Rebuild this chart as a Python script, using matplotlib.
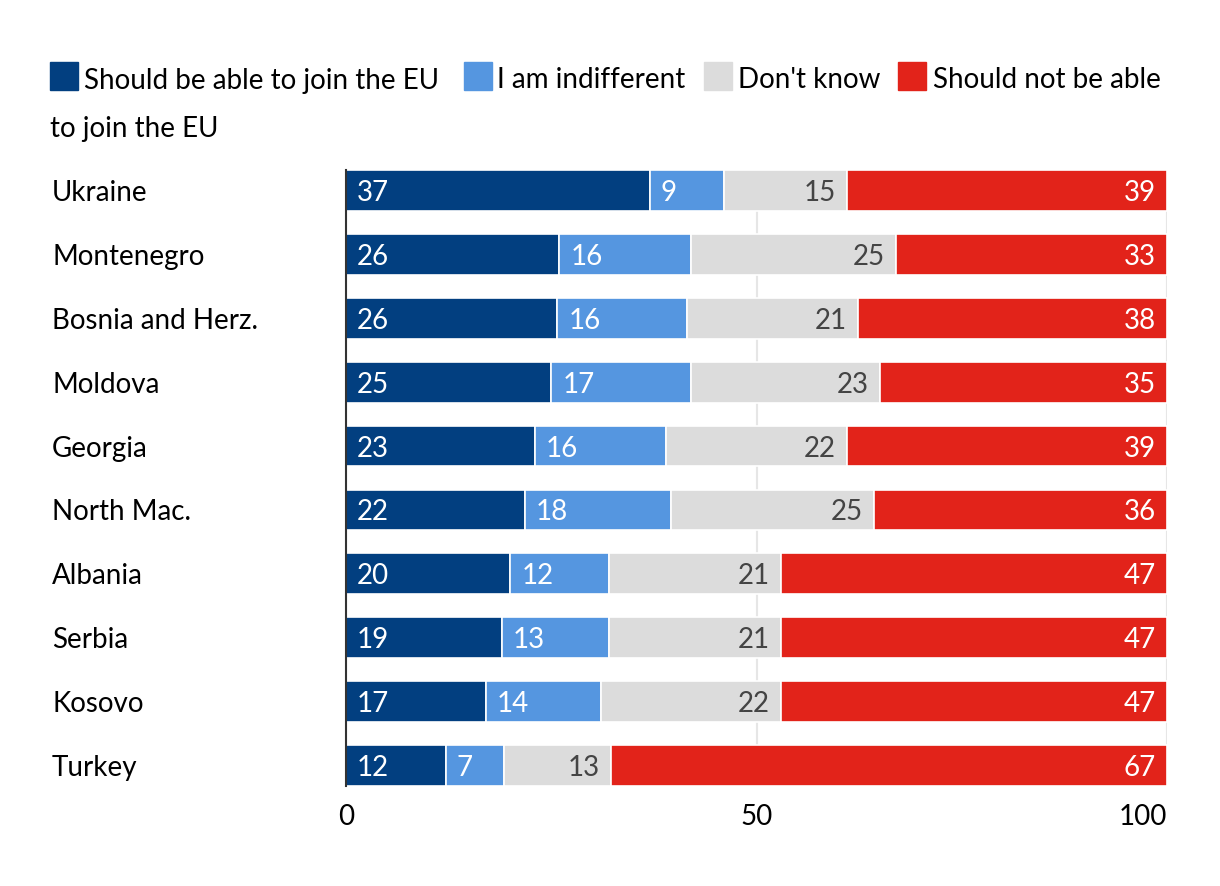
import matplotlib
matplotlib.use("Agg")
import matplotlib.pyplot as plt
from matplotlib.patches import Rectangle
from matplotlib.transforms import blended_transform_factory
import numpy as np

plt.rcParams['font.family'] = ['Lato', 'DejaVu Sans']

countries = ["Ukraine", "Montenegro", "Bosnia and Herz.", "Moldova", "Georgia",
             "North Mac.", "Albania", "Serbia", "Kosovo", "Turkey"]
able = [37, 26, 26, 25, 23, 22, 20, 19, 17, 12]
indifferent = [9, 16, 16, 17, 16, 18, 12, 13, 14, 7]
dont_know = [15, 25, 21, 23, 22, 25, 21, 21, 22, 13]
not_able = [39, 33, 38, 35, 39, 36, 47, 47, 47, 67]

series = [
    ("Should be able to join the EU", able, "#023f80", "white", "left"),
    ("I am indifferent", indifferent, "#5596e0", "white", "left"),
    ("Don't know", dont_know, "#dcdcdc", "#444444", "right"),
    ("Should not be able", not_able, "#e2231a", "white", "right"),
]

fs = 20
fig = plt.figure(figsize=(12.2, 8.86), dpi=100)
ax = fig.add_axes([346 / 1220, 1 - 786 / 886, 821 / 1220, 616 / 886])

y = np.arange(len(countries))
totals = np.sum([able, indifferent, dont_know, not_able], axis=0)
left = np.zeros(len(countries))
for name, vals, color, tcolor, align in series:
    vals = np.array(vals, dtype=float)
    width = vals / totals * 100
    ax.barh(y, width, left=left, height=0.64, color=color,
            edgecolor="white", linewidth=1.2, zorder=2)
    for yi, v, l, w in zip(y, vals, left, width):
        if align == "left":
            ax.annotate(f"{int(v)}", (l, yi), xytext=(8, 0), textcoords="offset points",
                        ha="left", va="center_baseline", color=tcolor, fontsize=fs)
        else:
            ax.annotate(f"{int(v)}", (l + w, yi), xytext=(-8, 0), textcoords="offset points",
                        ha="right", va="center_baseline", color=tcolor, fontsize=fs)
    left += width

ax.set_xlim(0, 100)
ax.set_ylim(len(countries) - 1 + 0.32, -0.32)
ax.set_xticks([0, 50, 100])
ax.tick_params(axis="x", length=0, pad=13, labelsize=fs)
ax.get_xticklabels()[-1].set_ha("right")
ax.set_yticks([])
ax.grid(axis="x", color="#e6e6e6", linewidth=1.5, zorder=0)
for s in ["top", "right", "bottom"]:
    ax.spines[s].set_visible(False)
ax.spines["left"].set_color("#333333")
ax.spines["left"].set_linewidth(1.5)
ax.spines["left"].set_zorder(3)

trans = blended_transform_factory(ax.transAxes, ax.transData)
for yi, c in zip(y, countries):
    ax.text((52 - 346) / 821, yi, c, transform=trans, ha="left",
            va="center_baseline", fontsize=fs)

# legend drawn by hand so it wraps like the original
leg_items = [(50, 84), (464, 497), (704, 738), (898, 933)]
for (px, tx), (name, vals, color, tcolor, align) in zip(leg_items, series):
    fig.patches.append(Rectangle((px / 1220, 1 - 90 / 886), 28 / 1220, 28 / 886,
                                 transform=fig.transFigure, color=color))
    fig.text(tx / 1220, 1 - 78 / 886, name, ha="left", va="center_baseline", fontsize=fs)
fig.text(50 / 1220, 1 - 127 / 886, "to join the EU", ha="left", va="center_baseline", fontsize=fs)

fig.savefig("out.png", dpi=100)
